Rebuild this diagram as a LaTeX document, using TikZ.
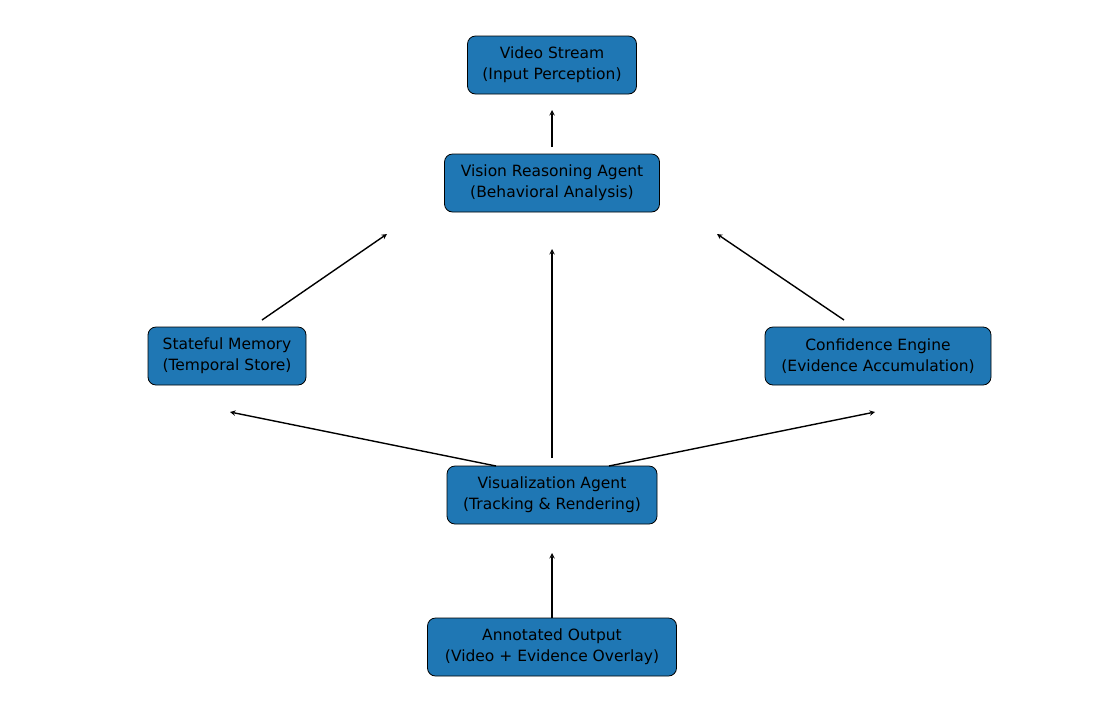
\documentclass[tikz,border=0pt]{standalone}
\usepackage{fontspec}
\setmainfont{DejaVu Sans}
\definecolor{mblue}{HTML}{1F77B4}
\begin{document}
\begin{tikzpicture}[x=1pt,y=-1pt,
  box/.style={draw=black,line width=0.8pt,fill=mblue,rounded corners=8pt,align=center,
    font=\fontsize{15.5}{21}\selectfont,text=black,minimum height=58pt,inner sep=0pt},
  arr/.style={-stealth,line width=1.4pt}]
\useasboundingbox (0,0) rectangle (1105,713);
\node[box,minimum width=169pt] (vs) at (552,65) {Video Stream\\(Input Perception)};
\node[box,minimum width=215pt] (vr) at (552,183) {Vision Reasoning Agent\\(Behavioral Analysis)};
\node[box,minimum width=158pt] (sm) at (227,356) {Stateful Memory\\(Temporal Store)};
\node[box,minimum width=226pt] (ce) at (878,356) {Confidence Engine\\(Evidence Accumulation)};
\node[box,minimum width=210pt] (va) at (552,495) {Visualization Agent\\(Tracking \& Rendering)};
\node[box,minimum width=249pt] (ao) at (552,647) {Annotated Output\\(Video + Evidence Overlay)};
\coordinate (a1s) at (552,147); \coordinate (a1e) at (552,110);
\coordinate (a2s) at (262,320); \coordinate (a2e) at (387,234);
\coordinate (a3s) at (844,320); \coordinate (a3e) at (717,234);
\coordinate (a4s) at (552,458); \coordinate (a4e) at (552,249);
\coordinate (a5s) at (496,466); \coordinate (a5e) at (230,412);
\coordinate (a6s) at (609,466); \coordinate (a6e) at (875,412);
\coordinate (a7s) at (552,618); \coordinate (a7e) at (552,553);
\foreach \i in {1,...,7} \draw[arr] (a\i s) -- (a\i e);
\end{tikzpicture}
\end{document}
